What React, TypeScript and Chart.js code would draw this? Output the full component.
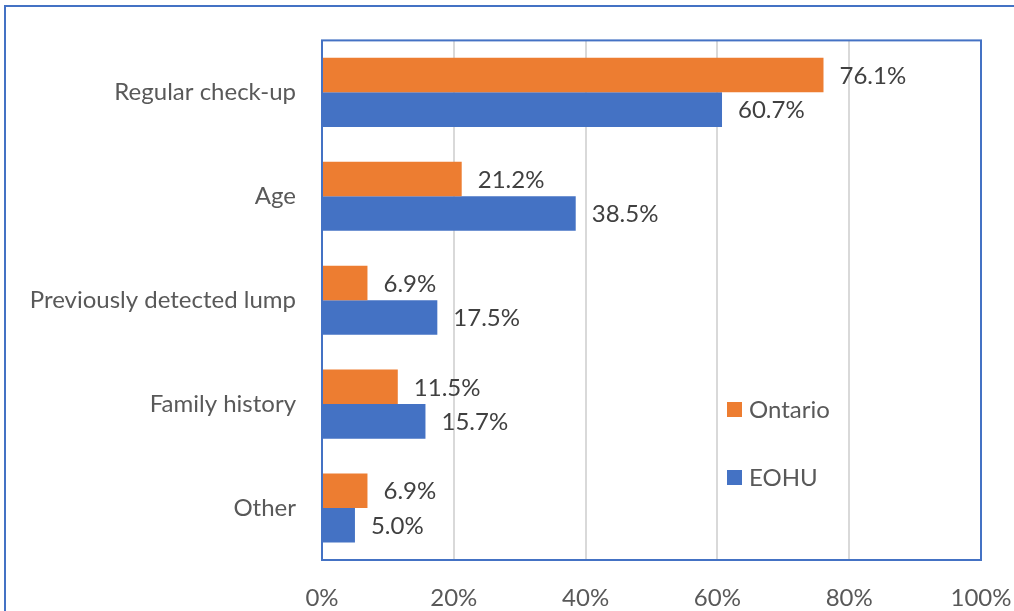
import React, { useEffect, useRef } from "react";
import { Chart, registerables } from "chart.js";

Chart.register(...registerables);

const categories = ["Regular check-up", "Age", "Previously detected lump", "Family history", "Other"];
const ontarioValues = [76.1, 21.2, 6.9, 11.5, 6.9];
const eohuValues = [60.7, 38.5, 17.5, 15.7, 5.0];
const seriesNames = ["Ontario", "EOHU"];
const xTicks = [0, 20, 40, 60, 80, 100];

const FONT = "Lato, 'Liberation Sans', sans-serif";
const FS = 24;
const ORANGE = "#ED7D31";
const BLUE = "#4472C4";

const decorPlugin = {
  id: "decor",
  beforeDraw(chart: any) {
    const ctx = chart.ctx;
    ctx.save();
    ctx.fillStyle = "#ffffff";
    ctx.fillRect(0, 0, chart.width, chart.height);
    ctx.strokeStyle = "#4472C4";
    ctx.lineWidth = 2;
    ctx.beginPath();
    ctx.moveTo(5, chart.height + 5);
    ctx.lineTo(5, 6);
    ctx.lineTo(chart.width + 5, 6);
    ctx.stroke();
    ctx.restore();
  },
  afterDatasetsDraw(chart: any) {
    const ctx = chart.ctx;
    const a = chart.chartArea;
    ctx.save();
    ctx.strokeStyle = "#4472C4";
    ctx.lineWidth = 2;
    ctx.strokeRect(a.left, a.top, a.right - a.left, a.bottom - a.top);
    ctx.fillStyle = "#404040";
    ctx.font = `${FS}px ${FONT}`;
    ctx.textBaseline = "middle";
    ctx.textAlign = "left";
    chart.data.datasets.forEach((ds: any, di: number) => {
      const meta = chart.getDatasetMeta(di);
      meta.data.forEach((bar: any, i: number) => {
        ctx.fillText(ds.data[i].toFixed(1) + "%", bar.x + 16, bar.y + 1);
      });
    });
    const lx = 727;
    const items = [
      { name: seriesNames[0], color: ORANGE, y: 409 },
      { name: seriesNames[1], color: BLUE, y: 477 },
    ];
    items.forEach((it) => {
      ctx.fillStyle = it.color;
      ctx.fillRect(lx, it.y - 7, 15, 15);
      ctx.fillStyle = "#595959";
      ctx.fillText(it.name, lx + 22, it.y + 1);
    });
    ctx.restore();
  },
};

export default function App() {
  const ref = useRef<HTMLCanvasElement | null>(null);
  useEffect(() => {
    if (!ref.current) return;
    const chart = new Chart(ref.current, {
      type: "bar",
      data: {
        labels: categories,
        datasets: [
          { label: seriesNames[0], data: ontarioValues, backgroundColor: ORANGE, categoryPercentage: 0.665, barPercentage: 1.0 },
          { label: seriesNames[1], data: eohuValues, backgroundColor: BLUE, categoryPercentage: 0.665, barPercentage: 1.0 },
        ],
      },
      options: {
        indexAxis: "y",
        animation: false,
        responsive: false,
        maintainAspectRatio: false,
        layout: { padding: { top: 39, right: 0, left: 0, bottom: 0 } },
        plugins: { legend: { display: false }, tooltip: { enabled: false } },
        scales: {
          x: {
            min: 0,
            max: 100,
            afterBuildTicks(scale: any) {
              scale.ticks = xTicks.map((v) => ({ value: v }));
            },
            afterFit(scale: any) {
              scale.height = 51;
              scale.paddingRight = 33;
            },
            grid: { color: "#D9D9D9", lineWidth: 2, drawTicks: false },
            border: { display: false },
            ticks: {
              padding: 24,
              color: "#595959",
              font: { family: FONT, size: FS },
              callback: (v: any) => v + "%",
            },
          },
          y: {
            afterFit(scale: any) {
              scale.width = 322;
            },
            grid: { display: false, drawTicks: false },
            border: { display: false },
            ticks: {
              padding: 26,
              color: "#595959",
              font: { family: FONT, size: FS },
            },
          },
        },
      },
      plugins: [decorPlugin],
    });
    return () => chart.destroy();
  }, []);
  return (
    <div style={{ position: "fixed", left: 0, top: 0, width: 1014, height: 611, background: "#fff" }}>
      <canvas ref={ref} width={1014} height={611} style={{ width: 1014, height: 611, display: "block" }} />
    </div>
  );
}
